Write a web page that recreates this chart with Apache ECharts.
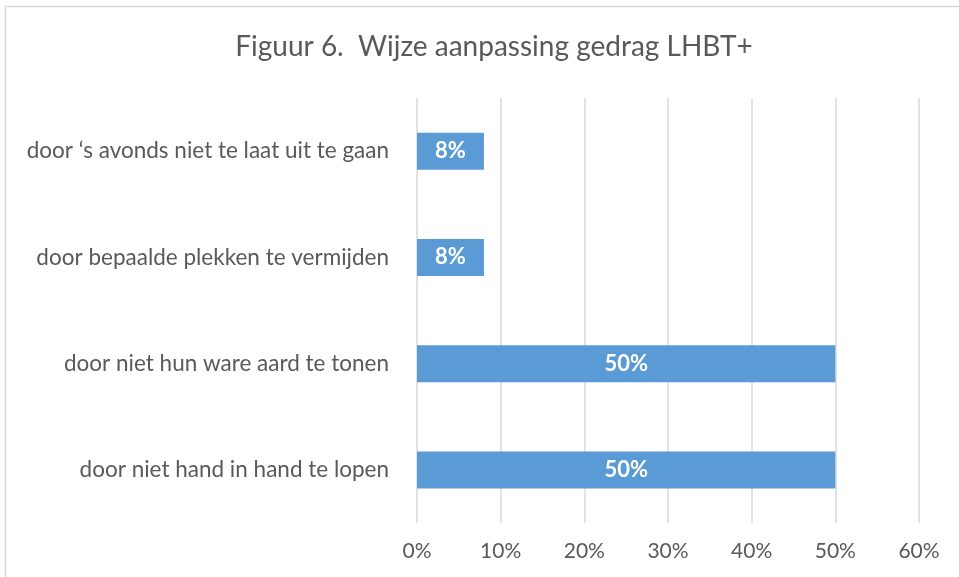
<!DOCTYPE html>
<html>
<head>
<meta charset="utf-8"/>
<script src="https://cdn.jsdelivr.net/npm/echarts@6/dist/echarts.min.js"></script>
<style>
  html, body { margin: 0; padding: 0; background: #fff; }
  #main { width: 959px; height: 577px; }
</style>
</head>
<body>
<div id="main"></div>
<script>
// categories bottom to top, as ECharts draws a category y axis from the bottom
var categories = [
  'door niet hand in hand te lopen',
  'door niet hun ware aard te tonen',
  'door bepaalde plekken te vermijden',
  'door \u2018s avonds niet te laat uit te gaan'
];
var values = [50, 50, 8, 8];
var xTicks = [0, 10, 20, 30, 40, 50, 60];

var myChart = echarts.init(document.getElementById('main'));
var option = {
  animation: false,
  backgroundColor: '#fff',
  textStyle: { fontFamily: 'Lato' },
  title: {
    text: 'Figuur 6.  Wijze aanpassing gedrag LHBT+',
    left: 489,
    textAlign: 'center',
    top: 28,
    textStyle: { fontFamily: 'Lato', fontWeight: 'normal', fontSize: 28, color: '#595959' }
  },
  graphic: [{
    type: 'rect',
    shape: { x: 5.5, y: 6.5, width: 970, height: 600 },
    style: { fill: 'none', stroke: '#d9d9d9', lineWidth: 1.5 },
    silent: true
  }],
  grid: { left: 417, right: 40, top: 98, bottom: 54, containLabel: false },
  xAxis: {
    type: 'value',
    min: xTicks[0],
    max: xTicks[xTicks.length - 1],
    interval: 10,
    axisLine: { show: false },
    axisTick: { show: false },
    splitLine: { lineStyle: { color: '#d9d9d9', width: 1.5 } },
    axisLabel: { formatter: '{value}%', color: '#595959', fontSize: 21, margin: 18 }
  },
  yAxis: {
    type: 'category',
    data: categories,
    axisLine: { show: false },
    axisTick: { show: false },
    axisLabel: { color: '#595959', fontSize: 22.5, margin: 28 }
  },
  series: [{
    type: 'bar',
    data: values,
    barWidth: 37,
    itemStyle: { color: '#5b9bd5' },
    label: {
      show: true,
      position: 'inside',
      formatter: '{c}%',
      color: '#fff',
      fontWeight: 'bold',
      fontSize: 22
    }
  }]
};
myChart.setOption(option);
</script>
</body>
</html>
